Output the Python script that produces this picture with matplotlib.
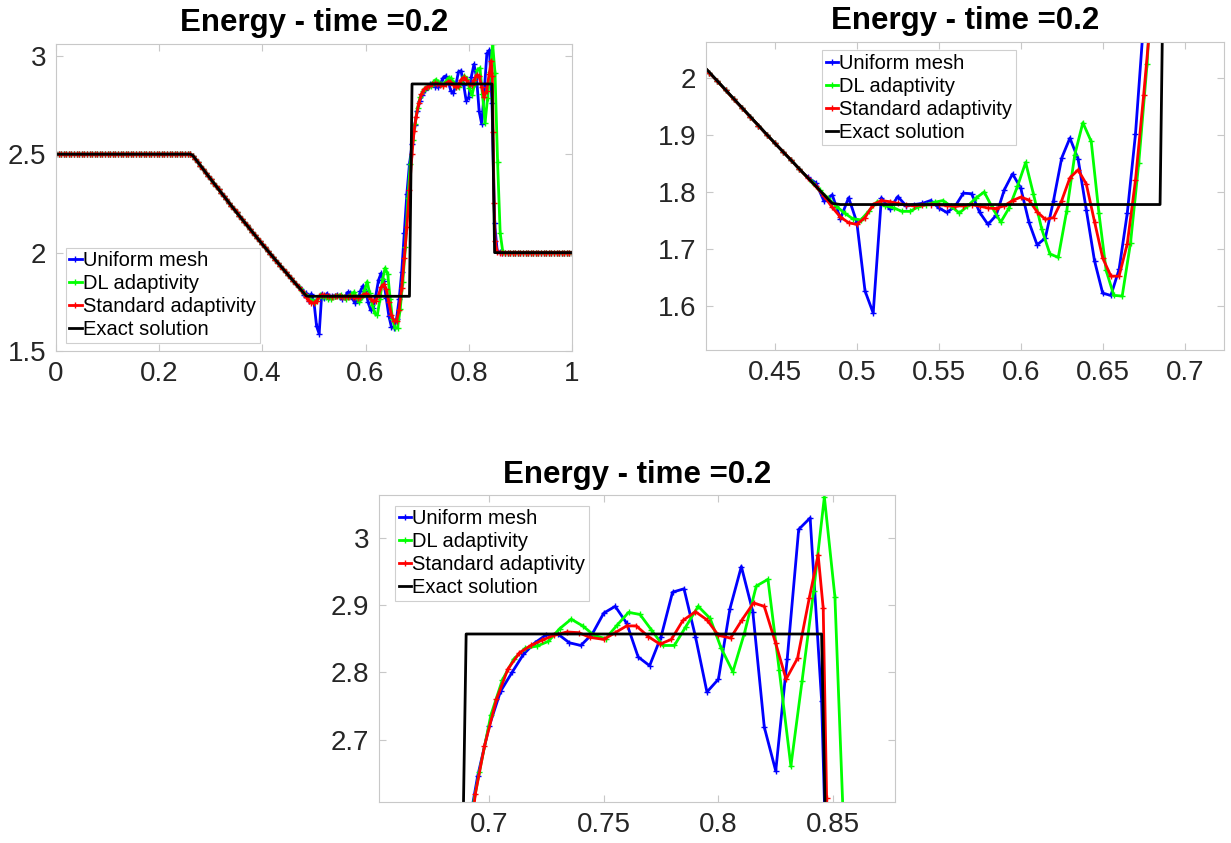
import numpy as np
import matplotlib
matplotlib.use('Agg')
import matplotlib.pyplot as plt
from matplotlib.ticker import FuncFormatter

plt.rcParams['font.family'] = ['Liberation Sans', 'DejaVu Sans']

# ---- data -----------------------------------------------------------------
dx = 0.005

# smooth part shared by all three runs: left state + rarefaction (x = 0 .. 0.465)
x_smooth = np.round(np.arange(0, 94) * dx, 4)
left_state = [2.5] * 53
rarefaction = [2.492, 2.476, 2.459, 2.442, 2.424, 2.407, 2.390, 2.373, 2.356, 2.338,
               2.321, 2.305, 2.288, 2.271, 2.254, 2.237, 2.221, 2.204, 2.188, 2.171,
               2.155, 2.139, 2.122, 2.106, 2.090, 2.074, 2.058, 2.042, 2.026, 2.010,
               1.995, 1.979, 1.963, 1.948, 1.932, 1.917, 1.901, 1.886, 1.871, 1.856,
               1.840]

# right state (x = 0.875 .. 1)
x_right = np.round(0.875 + np.arange(0, 26) * dx, 4)
right_state = [2.0] * 26

# uniform mesh, x = 0.47 .. 0.87
x_uniform_tail = np.round(0.47 + np.arange(0, 81) * dx, 4)
e_uniform_tail = [1.826, 1.816, 1.784, 1.795, 1.753, 1.790, 1.747,
                  1.626, 1.587, 1.790, 1.770, 1.792, 1.776, 1.778, 1.780, 1.785, 1.772,
                  1.764, 1.775, 1.798, 1.797, 1.764, 1.743, 1.759, 1.804, 1.832, 1.807,
                  1.747, 1.707, 1.719, 1.785, 1.860, 1.895, 1.858, 1.769, 1.679, 1.622,
                  1.618, 1.664, 1.763, 1.902, 2.100, 2.300, 2.450, 2.550, 2.646, 2.720,
                  2.772, 2.800, 2.827, 2.844, 2.856, 2.857, 2.844, 2.840, 2.857, 2.888,
                  2.898, 2.873, 2.823, 2.810, 2.853, 2.919, 2.924, 2.853, 2.771, 2.790,
                  2.894, 2.957, 2.890, 2.719, 2.654, 2.820, 3.012, 3.029, 2.758, 2.150,
                  2.010, 2.001, 2.000, 2.000]

# DL adaptivity
x_dl_tail = [0.4725, 0.4775, 0.4825, 0.4875, 0.4925, 0.4975, 0.5025, 0.5075, 0.5125,
             0.5175, 0.5225, 0.5275, 0.5325, 0.5375, 0.5425, 0.5475, 0.5525, 0.5575,
             0.5625, 0.5675, 0.5725, 0.5777, 0.5828, 0.5878, 0.5929, 0.5980, 0.6030,
             0.6077, 0.6128, 0.6178, 0.6229, 0.6280, 0.6330, 0.6379, 0.6430, 0.6477,
             0.6521, 0.6568, 0.6619, 0.6670, 0.6720, 0.6771, 0.6820, 0.6866, 0.6912,
             0.6958, 0.7008, 0.7058, 0.7108, 0.7158, 0.7208, 0.7258, 0.7308, 0.7358,
             0.7408, 0.7458, 0.7508, 0.7558, 0.7608, 0.7658, 0.7708, 0.7758, 0.7808,
             0.7858, 0.7912, 0.7964, 0.8012, 0.8063, 0.8114, 0.8165, 0.8216, 0.8265,
             0.8316, 0.8365, 0.8415, 0.8462, 0.8508, 0.8558, 0.8608, 0.8658, 0.8708]
e_dl_tail = [1.818, 1.803, 1.789, 1.775, 1.763, 1.753, 1.751, 1.767, 1.783,
             1.776, 1.772, 1.766, 1.766, 1.774, 1.778, 1.782, 1.785, 1.775,
             1.763, 1.775, 1.789, 1.800, 1.772, 1.747, 1.772, 1.810, 1.852,
             1.797, 1.735, 1.691, 1.685, 1.766, 1.866, 1.922, 1.889, 1.763,
             1.662, 1.618, 1.617, 1.711, 1.851, 2.026, 2.280, 2.450, 2.570,
             2.653, 2.737, 2.789, 2.820, 2.836, 2.839, 2.846, 2.865, 2.879,
             2.869, 2.855, 2.850, 2.870, 2.889, 2.886, 2.863, 2.840, 2.840,
             2.868, 2.898, 2.880, 2.836, 2.801, 2.859, 2.928, 2.938, 2.804,
             2.661, 2.788, 2.920, 3.060, 2.912, 2.460, 2.100, 2.005, 2.000]

# standard adaptivity
x_std_tail = [0.470, 0.475, 0.480, 0.485, 0.490, 0.495, 0.500, 0.505, 0.510, 0.515,
              0.520, 0.525, 0.530, 0.535, 0.540, 0.545, 0.550, 0.555, 0.560, 0.565,
              0.570, 0.575, 0.580, 0.585, 0.590, 0.595, 0.600, 0.605, 0.610, 0.615,
              0.620, 0.625, 0.630, 0.635, 0.640, 0.645, 0.650, 0.655, 0.660, 0.665,
              0.670, 0.675, 0.680, 0.685, 0.690, 0.694, 0.698, 0.7032, 0.7082, 0.7132,
              0.7182, 0.7232, 0.7282, 0.7340, 0.7390, 0.7440, 0.7500, 0.7550, 0.7600,
              0.7642, 0.7695, 0.7745, 0.7795, 0.7845, 0.7900, 0.7950, 0.8000, 0.8053,
              0.8103, 0.8153, 0.8200, 0.8250, 0.8295, 0.8345, 0.8396, 0.8435, 0.8457,
              0.8472, 0.8490, 0.8510, 0.8550, 0.8600, 0.8650, 0.8700]
e_std_tail = [1.825, 1.810, 1.793, 1.773, 1.756, 1.746, 1.743, 1.755, 1.778, 1.785,
              1.783, 1.780, 1.777, 1.776, 1.777, 1.778, 1.778, 1.776, 1.775, 1.776,
              1.778, 1.775, 1.772, 1.771, 1.776, 1.785, 1.791, 1.786, 1.765, 1.752,
              1.755, 1.785, 1.825, 1.839, 1.814, 1.748, 1.684, 1.652, 1.652, 1.709,
              1.821, 1.971, 2.130, 2.320, 2.500, 2.620, 2.691, 2.760, 2.805, 2.829,
              2.840, 2.848, 2.855, 2.860, 2.859, 2.852, 2.849, 2.859, 2.869,
              2.869, 2.853, 2.842, 2.849, 2.877, 2.890, 2.878, 2.855, 2.851,
              2.878, 2.903, 2.898, 2.843, 2.790, 2.821, 2.910, 2.974, 2.895,
              2.614, 2.250, 2.060, 2.005, 2.000, 2.000, 2.000]

# exact solution sampled on the 0.005 grid (jumps joined between neighbouring nodes)
x_exact = [0.0, 0.26, 0.265, 0.30, 0.35, 0.40, 0.45, 0.485, 0.49, 0.685, 0.69,
           0.845, 0.85, 1.0]
e_exact = [2.5, 2.5, 2.494, 2.373, 2.204, 2.042, 1.886, 1.780, 1.778, 1.778, 2.857,
           2.857, 2.0, 2.0]


def full(x_tail, e_tail):
    x = np.concatenate([x_smooth, x_tail, x_right])
    e = np.concatenate([left_state + rarefaction, e_tail, right_state])
    return x, e


runs = [
    (full(x_uniform_tail, e_uniform_tail), (0, 0, 1), 'Uniform mesh'),
    (full(x_dl_tail, e_dl_tail), (0, 1, 0), 'DL adaptivity'),
    (full(x_std_tail, e_std_tail), (1, 0, 0), 'Standard adaptivity'),
]

# ---- plotting -------------------------------------------------------------
W, H = 1231, 843
fig = plt.figure(figsize=(W / 100, H / 100), dpi=100)

spine_col = '#c8c8c8'
text_col = '#262626'


def add_axes(px_left, px_top, px_right, px_bottom):
    return fig.add_axes([px_left / W, 1 - px_bottom / H,
                         (px_right - px_left) / W, (px_bottom - px_top) / H])


def draw(ax, xlim, ylim, xticks, yticks, leg_loc, leg_anchor):
    for (x, e), col, lab in runs:
        ax.plot(x, e, '-+', color=col, lw=2, ms=4, mew=1, label=lab)
    ax.plot(x_exact, e_exact, '-', color='k', lw=2, label='Exact solution')
    ax.set_xlim(xlim)
    ax.set_ylim(ylim)
    ax.set_xticks(xticks)
    ax.set_yticks(yticks)
    fmt = FuncFormatter(lambda v, p: '%g' % round(v, 3))
    ax.xaxis.set_major_formatter(fmt)
    ax.yaxis.set_major_formatter(fmt)
    ax.tick_params(direction='in', length=5, width=0.8, color=spine_col,
                   labelcolor=text_col, labelsize=20, top=True, right=True, pad=7)
    for s in ax.spines.values():
        s.set_color(spine_col)
        s.set_linewidth(0.8)
    ax.set_title('Energy - time =0.2', fontsize=22.5, fontweight='bold', pad=9)
    leg = ax.legend(loc=leg_loc, bbox_to_anchor=leg_anchor, borderaxespad=0,
                    fontsize=14.5, handlelength=0.6, handletextpad=0.08,
                    labelspacing=0.2, borderpad=0.18, fancybox=False,
                    framealpha=1, edgecolor='#cfcfcf', numpoints=1)
    leg.get_frame().set_linewidth(0.8)


ax1 = add_axes(56, 44, 572, 351)
draw(ax1, (0, 1), (1.5, 3.06), [0, 0.2, 0.4, 0.6, 0.8, 1], [1.5, 2, 2.5, 3],
     'lower left', (0.019, 0.026))

ax2 = add_axes(706, 42, 1224, 350)
draw(ax2, (0.408, 0.724), (1.522, 2.064), [0.45, 0.5, 0.55, 0.6, 0.65, 0.7],
     [1.6, 1.7, 1.8, 1.9, 2], 'upper left', (0.224, 0.974))

ax3 = add_axes(379, 495, 895, 802)
draw(ax3, (0.652, 0.877), (2.608, 3.063), [0.7, 0.75, 0.8, 0.85],
     [2.7, 2.8, 2.9, 3], 'upper left', (0.031, 0.965))

fig.savefig('out.png', dpi=100)
